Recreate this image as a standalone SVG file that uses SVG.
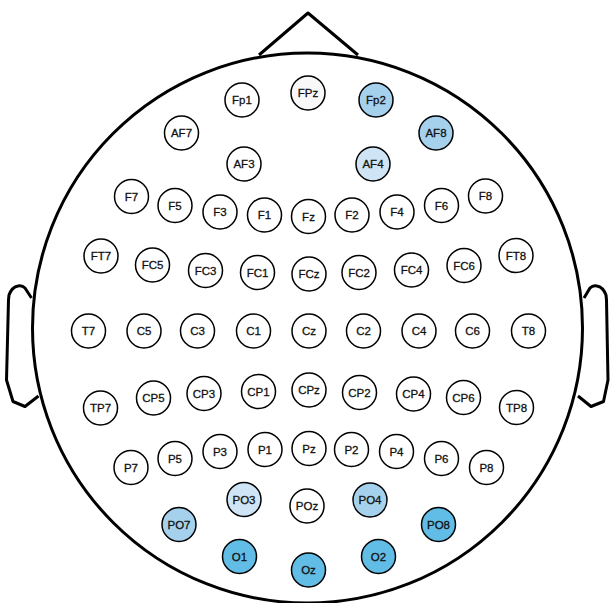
<svg xmlns="http://www.w3.org/2000/svg" width="610" height="603" viewBox="0 0 610 603">
<style>
.head{fill:none;stroke:#000;stroke-width:3;stroke-linejoin:round}
.e circle{fill:#fff;stroke:#000;stroke-width:1.5}
.e text{font-family:"Liberation Sans",Arial,sans-serif;font-size:11.5px;fill:#111;stroke:#111;stroke-width:0.3;text-anchor:middle;dominant-baseline:central}
.l1 circle{fill:#cfe5f5}
.l2 circle{fill:#a5d1ec}
.l3 circle{fill:#62bde6}
</style>
<rect width="610" height="603" fill="#fff"/>
<g id="head">
<circle class="head" cx="307.5" cy="328" r="275"/>
<polyline class="head" points="259,55 308,13 358,55"/>
<path class="head" d="M31.5,298 L25,288 Q22,285 18,286 Q12,287 9,295 L8.5,300 L6.5,380 L13,401.5 L25,406.5 L38.5,396"/>
<path class="head" d="M584,298 L590,288 Q593,285 597,286 Q603,287 606,295 L606.5,300 L608,380 L603.5,401.5 L591,406.5 L578,396"/>
</g>
<g id="connectors"></g>
<g id="Fp1" class="e"><circle cx="242" cy="100" r="17"/><text x="242" y="100">Fp1</text></g>
<g id="FPz" class="e"><circle cx="308" cy="93" r="17" style="fill:#f8f8f8"/><text x="308" y="93">FPz</text></g>
<g id="Fp2" class="e l2"><circle cx="376" cy="100" r="17"/><text x="376" y="100">Fp2</text></g>
<g id="AF7" class="e"><circle cx="181.5" cy="133" r="17"/><text x="181.5" y="133">AF7</text></g>
<g id="AF8" class="e l2"><circle cx="436" cy="133" r="17"/><text x="436" y="133">AF8</text></g>
<g id="AF3" class="e"><circle cx="244" cy="164" r="17"/><text x="244" y="164">AF3</text></g>
<g id="AF4" class="e l1"><circle cx="373" cy="164" r="17"/><text x="373" y="164">AF4</text></g>
<g id="F7" class="e"><circle cx="131.5" cy="196.5" r="17"/><text x="131.5" y="196.5">F7</text></g>
<g id="F5" class="e"><circle cx="175" cy="205.5" r="17"/><text x="175" y="205.5">F5</text></g>
<g id="F3" class="e"><circle cx="220" cy="212" r="17"/><text x="220" y="212">F3</text></g>
<g id="F1" class="e"><circle cx="264.5" cy="215" r="17"/><text x="264.5" y="215">F1</text></g>
<g id="Fz" class="e"><circle cx="308.5" cy="216.5" r="17"/><text x="308.5" y="216.5">Fz</text></g>
<g id="F2" class="e"><circle cx="352" cy="215" r="17"/><text x="352" y="215">F2</text></g>
<g id="F4" class="e"><circle cx="397" cy="212" r="17"/><text x="397" y="212">F4</text></g>
<g id="F6" class="e"><circle cx="441.5" cy="205.5" r="17"/><text x="441.5" y="205.5">F6</text></g>
<g id="F8" class="e"><circle cx="485.5" cy="196" r="17"/><text x="485.5" y="196">F8</text></g>
<g id="FT7" class="e"><circle cx="101" cy="256" r="17"/><text x="101" y="256">FT7</text></g>
<g id="FC5" class="e"><circle cx="152.5" cy="265" r="17"/><text x="152.5" y="265">FC5</text></g>
<g id="FC3" class="e"><circle cx="205.5" cy="270.5" r="17"/><text x="205.5" y="270.5">FC3</text></g>
<g id="FC1" class="e"><circle cx="257.5" cy="272.5" r="17"/><text x="257.5" y="272.5">FC1</text></g>
<g id="FCz" class="e"><circle cx="309" cy="274" r="17"/><text x="309" y="274">FCz</text></g>
<g id="FC2" class="e"><circle cx="359" cy="272.5" r="17"/><text x="359" y="272.5">FC2</text></g>
<g id="FC4" class="e"><circle cx="411.5" cy="270" r="17"/><text x="411.5" y="270">FC4</text></g>
<g id="FC6" class="e"><circle cx="464" cy="265.5" r="17"/><text x="464" y="265.5">FC6</text></g>
<g id="FT8" class="e"><circle cx="516" cy="255.5" r="17"/><text x="516" y="255.5">FT8</text></g>
<g id="T7" class="e"><circle cx="88.5" cy="331" r="17"/><text x="88.5" y="331">T7</text></g>
<g id="C5" class="e"><circle cx="144" cy="331" r="17"/><text x="144" y="331">C5</text></g>
<g id="C3" class="e"><circle cx="197.5" cy="331" r="17"/><text x="197.5" y="331">C3</text></g>
<g id="C1" class="e"><circle cx="253.5" cy="331" r="17"/><text x="253.5" y="331">C1</text></g>
<g id="Cz" class="e"><circle cx="309" cy="331" r="17"/><text x="309" y="331">Cz</text></g>
<g id="C2" class="e"><circle cx="363.5" cy="331" r="17"/><text x="363.5" y="331">C2</text></g>
<g id="C4" class="e"><circle cx="419" cy="331" r="17"/><text x="419" y="331">C4</text></g>
<g id="C6" class="e"><circle cx="472.5" cy="331" r="17"/><text x="472.5" y="331">C6</text></g>
<g id="T8" class="e"><circle cx="528.5" cy="331" r="17"/><text x="528.5" y="331">T8</text></g>
<g id="TP7" class="e"><circle cx="100.5" cy="408" r="17"/><text x="100.5" y="408">TP7</text></g>
<g id="CP5" class="e"><circle cx="153.5" cy="398" r="17"/><text x="153.5" y="398">CP5</text></g>
<g id="CP3" class="e"><circle cx="204" cy="393.5" r="17"/><text x="204" y="393.5">CP3</text></g>
<g id="CP1" class="e"><circle cx="258.5" cy="391.5" r="17"/><text x="258.5" y="391.5">CP1</text></g>
<g id="CPz" class="e"><circle cx="309" cy="390" r="17"/><text x="309" y="390">CPz</text></g>
<g id="CP2" class="e"><circle cx="359.5" cy="392.5" r="17"/><text x="359.5" y="392.5">CP2</text></g>
<g id="CP4" class="e"><circle cx="413.5" cy="394" r="17"/><text x="413.5" y="394">CP4</text></g>
<g id="CP6" class="e"><circle cx="463.5" cy="397.5" r="17"/><text x="463.5" y="397.5">CP6</text></g>
<g id="TP8" class="e"><circle cx="516.5" cy="407.5" r="17"/><text x="516.5" y="407.5">TP8</text></g>
<g id="P7" class="e"><circle cx="131" cy="467.5" r="17"/><text x="131" y="467.5">P7</text></g>
<g id="P5" class="e"><circle cx="175" cy="458.5" r="17"/><text x="175" y="458.5">P5</text></g>
<g id="P3" class="e"><circle cx="220" cy="451.5" r="17"/><text x="220" y="451.5">P3</text></g>
<g id="P1" class="e"><circle cx="265" cy="449.5" r="17"/><text x="265" y="449.5">P1</text></g>
<g id="Pz" class="e"><circle cx="309" cy="448.5" r="17"/><text x="309" y="448.5">Pz</text></g>
<g id="P2" class="e"><circle cx="351.5" cy="449.5" r="17"/><text x="351.5" y="449.5">P2</text></g>
<g id="P4" class="e"><circle cx="396.5" cy="451.5" r="17"/><text x="396.5" y="451.5">P4</text></g>
<g id="P6" class="e"><circle cx="441.5" cy="458.5" r="17"/><text x="441.5" y="458.5">P6</text></g>
<g id="P8" class="e"><circle cx="486.5" cy="467.5" r="17"/><text x="486.5" y="467.5">P8</text></g>
<g id="PO3" class="e l1"><circle cx="244" cy="499.5" r="17"/><text x="244" y="499.5">PO3</text></g>
<g id="POz" class="e"><circle cx="307" cy="506" r="17"/><text x="307" y="506">POz</text></g>
<g id="PO4" class="e l2"><circle cx="370" cy="500" r="17"/><text x="370" y="500">PO4</text></g>
<g id="PO7" class="e l2"><circle cx="179" cy="524.5" r="17"/><text x="179" y="524.5">PO7</text></g>
<g id="PO8" class="e l3"><circle cx="438.5" cy="524.5" r="17"/><text x="438.5" y="524.5">PO8</text></g>
<g id="O1" class="e l3"><circle cx="239.5" cy="556.5" r="17"/><text x="239.5" y="556.5">O1</text></g>
<g id="Oz" class="e l3"><circle cx="308.5" cy="570" r="17"/><text x="308.5" y="570">Oz</text></g>
<g id="O2" class="e l3"><circle cx="378.5" cy="556.5" r="17"/><text x="378.5" y="556.5">O2</text></g>
</svg>
